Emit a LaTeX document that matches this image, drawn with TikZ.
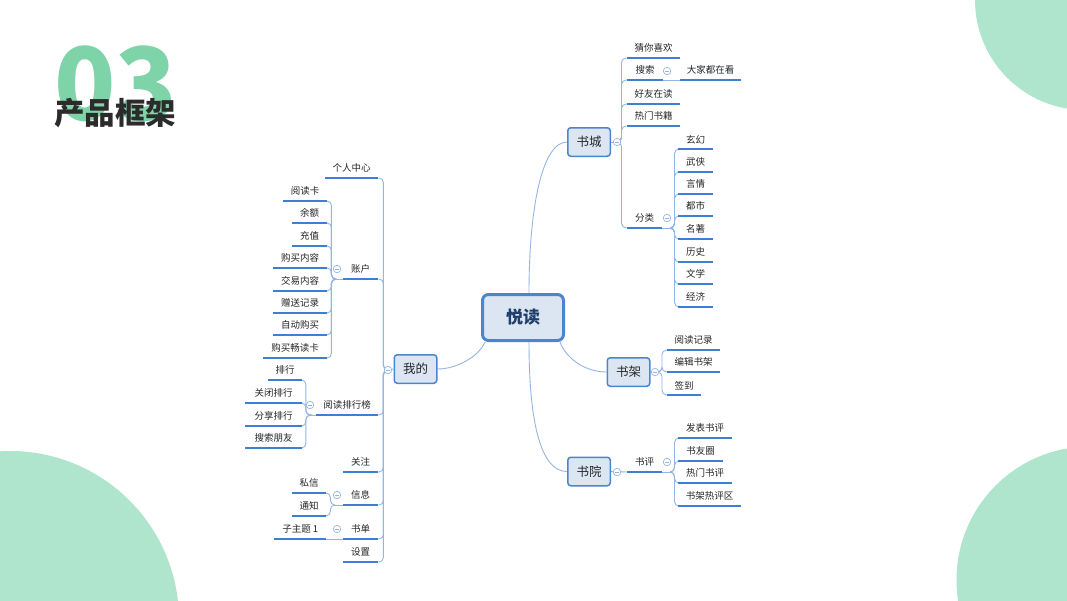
\documentclass[tikz,border=0pt]{standalone}
\usepackage{fontspec}
\setmainfont{Noto Sans CJK SC}
\definecolor{mint}{HTML}{AEE5CC}
\definecolor{titlegreen}{HTML}{7FD3A8}
\definecolor{titletext}{HTML}{2B2B2B}
\definecolor{boxfill}{HTML}{DCE6F2}
\definecolor{boxdraw}{HTML}{4A86D0}
\definecolor{ulblue}{HTML}{3F7FD2}
\definecolor{connblue}{HTML}{95B6E0}
\definecolor{txt}{HTML}{262626}
\definecolor{navy}{HTML}{1F3F6E}
\pgfdeclarelayer{bg}
\pgfsetlayers{bg,main}
\tikzset{
 mainbox/.style={draw=boxdraw, line width=3pt, fill=boxfill, rounded corners=6pt, minimum width=81pt, minimum height=46pt, font=\fontsize{17}{17}\selectfont\bfseries, text=navy, inner sep=0pt},
 subbox/.style={draw=boxdraw, line width=1.5pt, fill=boxfill, rounded corners=3pt, minimum width=42.5pt, minimum height=28.5pt, font=\fontsize{12.5}{12.5}\selectfont, text=txt, inner sep=0pt},
 topic/.style={inner sep=0pt, minimum height=19pt, font=\fontsize{9.5}{9.5}\selectfont, text=txt, anchor=south west},
 uln/.style={draw=ulblue, line width=1.8pt},
 conn/.style={draw=connblue, line width=0.9pt},
 branch/.style={conn, rounded corners=4.5pt},
 fold/.style={circle, draw=connblue, fill=white, line width=0.7pt, minimum size=7.5pt, inner sep=0pt,
   path picture={\draw[connblue, line width=0.7pt] ([xshift=-2pt]path picture bounding box.center) -- ([xshift=2pt]path picture bounding box.center);}},
}
\newcommand\mmtopic[5]{\node[topic, minimum width=#4pt] (#1) at (#2,#3) {#5};}
\begin{document}
\begin{tikzpicture}[x=1pt,y=-1pt]
\useasboundingbox (0,0) rectangle (1067,600);
\begin{pgfonlayer}{bg}
\clip (0,0) rectangle (1067,600);
\fill[white] (0,0) rectangle (1067,600);
\fill[mint] (1085,0) circle[radius=110];
\fill[mint] (10,620) circle[radius=169];
\fill[mint] (1090,580) circle[radius=133.5];
\end{pgfonlayer}

% title
\node[anchor=base west, inner sep=0pt, text=titlegreen, font=\fontsize{101}{101}\selectfont\bfseries] (num) at (54,120) {03};
\node[anchor=base west, inner sep=0pt, text=titletext, font=\fontsize{30.5}{30.5}\selectfont\bfseries] (title) at (54,124) {产品框架};

% boxes
\node[mainbox] (yd) at (523,317.5) {悦读};
\node[subbox] (sc) at (589,142) {书城};
\node[subbox] (wd) at (415.5,369) {我的};
\node[subbox] (sj) at (628.5,372) {书架};
\node[subbox] (sy) at (589,471.5) {书院};

% 书城
\mmtopic{cnxh}{627}{58}{53}{猜你喜欢}
\mmtopic{ss}{627}{80}{36}{搜索}
\mmtopic{djdzk}{680}{80}{61}{大家都在看}
\mmtopic{hyzd}{627}{104}{53}{好友在读}
\mmtopic{rmsj}{627}{126}{53}{热门书籍}
\mmtopic{fl}{627}{228}{35}{分类}
\mmtopic{xh}{678}{149}{35}{玄幻}
\mmtopic{wx}{678}{172}{35}{武侠}
\mmtopic{yq}{678}{194}{35}{言情}
\mmtopic{ds}{678}{216}{35}{都市}
\mmtopic{mz}{678}{239}{35}{名著}
\mmtopic{ls}{678}{262}{35}{历史}
\mmtopic{wxue}{678}{284}{35}{文学}
\mmtopic{jj}{678}{307}{35}{经济}
% 书架
\mmtopic{ydjl}{667}{350}{53}{阅读记录}
\mmtopic{bjsj}{667}{372}{53}{编辑书架}
\mmtopic{qd}{667}{395}{34}{签到}
% 书院
\mmtopic{sp}{627}{472}{35}{书评}
\mmtopic{fbsp}{678}{438}{54}{发表书评}
\mmtopic{syq}{678}{461}{45}{书友圈}
\mmtopic{rmsp}{678}{483}{54}{热门书评}
\mmtopic{sjrpq}{678}{506}{63}{书架热评区}
% 我的
\mmtopic{grzx}{325}{178}{53}{个人中心}
\mmtopic{zh}{343}{279}{35}{账户}
\mmtopic{ydk}{283}{201}{44}{阅读卡}
\mmtopic{ye}{292}{223}{35}{余额}
\mmtopic{cz}{292}{246}{35}{充值}
\mmtopic{gmnr}{273}{268}{54}{购买内容}
\mmtopic{jynr}{273}{291}{54}{交易内容}
\mmtopic{zsjl}{273}{313}{54}{赠送记录}
\mmtopic{zdgm}{273}{335}{54}{自动购买}
\mmtopic{gmcdk}{263}{358}{64}{购买畅读卡}
\mmtopic{ydphb}{316}{415}{62}{阅读排行榜}
\mmtopic{ph}{268}{380}{34}{排行}
\mmtopic{gbph}{245}{403}{57}{关闭排行}
\mmtopic{fxph}{245}{426}{57}{分享排行}
\mmtopic{sspy}{245}{448}{57}{搜索朋友}
\mmtopic{gz}{343}{472}{35}{关注}
\mmtopic{xx}{343}{505}{35}{信息}
\mmtopic{sx}{292}{493}{34}{私信}
\mmtopic{tz}{292}{516}{34}{通知}
\mmtopic{sd}{343}{539}{35}{书单}
\mmtopic{zzt}{274}{539}{52}{子主题 1}
\mmtopic{sz}{343}{562}{35}{设置}

\foreach \n in {cnxh,ss,djdzk,hyzd,rmsj,fl,xh,wx,yq,ds,mz,ls,wxue,jj,ydjl,bjsj,qd,sp,fbsp,syq,rmsp,sjrpq,grzx,zh,ydk,ye,cz,gmnr,jynr,zsjl,zdgm,gmcdk,ydphb,ph,gbph,fxph,sspy,gz,xx,sx,tz,sd,zzt,sz}
  \draw[uln] (\n.south west) -- (\n.south east);

% fold points and junctions
\coordinate (fsc) at (617,142);
\coordinate (fss) at (667,71);
\coordinate (ffl) at (667,218);
\coordinate (fsj) at (655,372);
\coordinate (fsy) at (617,472);
\coordinate (fsp) at (667,462);
\coordinate (fwd) at (388,370);
\coordinate (fzh) at (337,269);
\coordinate (fph) at (310,405);
\coordinate (fxx) at (337,495);
\coordinate (fsd) at (337,529);
\coordinate (jfl) at (670,228);
\coordinate (jsj) at (655,372);
\coordinate (jsp) at (670,472);
\coordinate (jzh) at (336,279);
\coordinate (jph) at (309,415);
\coordinate (jxx) at (335,505);

\begin{pgfonlayer}{bg}
\draw[conn] ([xshift=6pt]yd.north) .. controls +(0,-85) and +(-25,0) .. (sc.west);
\draw[conn] ([xshift=6pt]yd.south) .. controls +(0,85) and +(-25,0) .. (sy.west);
\draw[conn] ([xshift=-5pt]yd.south east) .. controls +(6,16) and +(-22,0) .. (sj.west);
\draw[conn] ([xshift=4pt]yd.south west) .. controls +(-6,14) and +(20,0) .. (wd.east);
% 书城
\draw[conn] (sc.east) -- (fsc);
\foreach \c in {cnxh,ss,hyzd,rmsj,fl}
  \draw[branch] (fsc) -| ([xshift=-5.5pt]\c.south west) -- (\c.south west);
\draw[conn] (ss.south east) -- (djdzk.south west);
\draw[conn] (fl.south east) -- (jfl);
\foreach \c in {xh,wx,yq,ds,mz,ls,wxue,jj}
  \draw[branch] (jfl) -| ([xshift=-3.5pt]\c.south west) -- (\c.south west);
% 书架
\draw[conn] (sj.east) -- (jsj);
\foreach \c in {ydjl,bjsj,qd}
  \draw[branch] (jsj) -| ([xshift=-5pt]\c.south west) -- (\c.south west);
% 书院
\draw[conn] (sy.east) -- (sp.south west);
\draw[conn] (sp.south east) -- (jsp);
\foreach \c in {fbsp,syq,rmsp,sjrpq}
  \draw[branch] (jsp) -| ([xshift=-3.5pt]\c.south west) -- (\c.south west);
% 我的
\draw[conn] (wd.west) -- (fwd);
\foreach \c in {grzx,zh,ydphb,gz,xx,sd,sz}
  \draw[branch] (fwd) -| ([xshift=5pt]\c.south east) -- (\c.south east);
\draw[conn] (zh.south west) -- (jzh);
\foreach \c in {ydk,ye,cz,gmnr,jynr,zsjl,zdgm,gmcdk}
  \draw[branch] (jzh) -| ([xshift=4pt]\c.south east) -- (\c.south east);
\draw[conn] (ydphb.south west) -- (jph);
\foreach \c in {ph,gbph,fxph,sspy}
  \draw[branch] (jph) -| ([xshift=3.5pt]\c.south east) -- (\c.south east);
\draw[conn] (xx.south west) -- (jxx);
\foreach \c in {sx,tz}
  \draw[branch] (jxx) -| ([xshift=4pt]\c.south east) -- (\c.south east);
\draw[conn] (sd.south west) -- (zzt.south east);
\end{pgfonlayer}

\foreach \f in {fsc,fss,ffl,fsj,fsy,fsp,fwd,fzh,fph,fxx,fsd}
  \node[fold] (n\f) at (\f) {};
\end{tikzpicture}
\end{document}
